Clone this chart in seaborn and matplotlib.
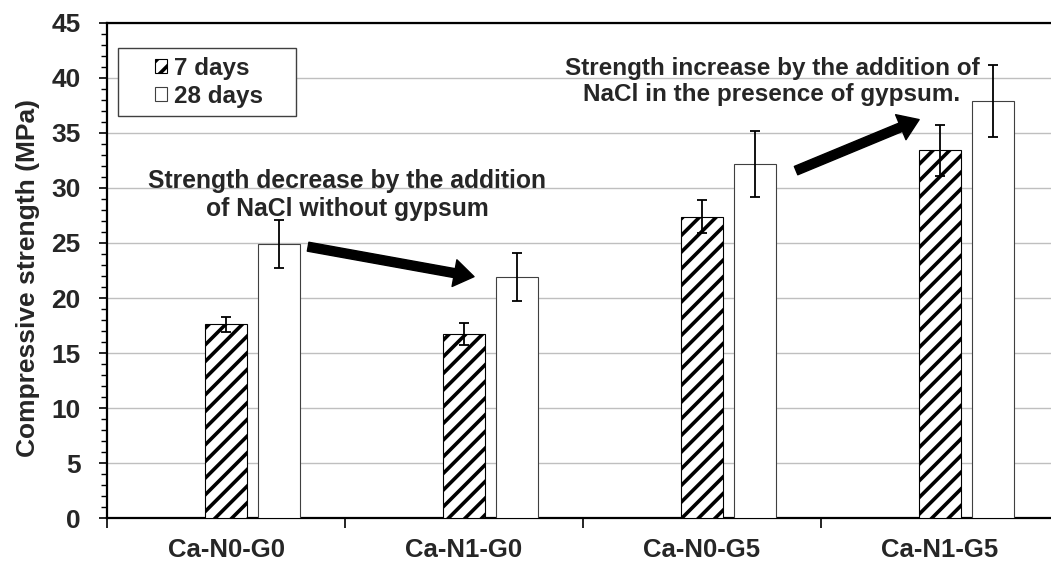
import numpy as np
import pandas as pd
import seaborn as sns
import matplotlib
matplotlib.use("Agg")
import matplotlib.pyplot as plt
from matplotlib.patches import Patch, Rectangle
from matplotlib.ticker import MultipleLocator

# ---- data ----
categories = ["Ca-N0-G0", "Ca-N1-G0", "Ca-N0-G5", "Ca-N1-G5"]
series = ["7 days", "28 days"]
strength_7d = [17.6, 16.7, 27.4, 33.4]
strength_28d = [24.9, 21.9, 32.2, 37.9]
err_7d = [0.7, 1.0, 1.5, 2.3]
err_28d = [2.2, 2.2, 3.0, 3.3]
y_ticks = [0, 5, 10, 15, 20, 25, 30, 35, 40, 45]
note_decrease = "Strength decrease by the addition\nof NaCl without gypsum"
note_increase = "Strength increase by the addition of\nNaCl in the presence of gypsum."

df = pd.DataFrame({
    "category": categories * 2,
    "age": [series[0]] * 4 + [series[1]] * 4,
    "strength": strength_7d + strength_28d,
})

sns.set_theme(style="white")
plt.rcParams["font.family"] = ["Liberation Sans", "DejaVu Sans"]
plt.rcParams["font.weight"] = "bold"
plt.rcParams["hatch.linewidth"] = 2.6

fig = plt.figure(figsize=(10.51, 5.64), dpi=100)
ax = fig.add_axes([0.1018, 0.081, 0.8982, 0.8788])

hue_order = ["_slot", series[0], series[1]]
sns.barplot(data=df, x="category", y="strength", hue="age", order=categories,
            hue_order=hue_order, palette=["white", "white", "white"],
            width=0.662, gap=0.2, errorbar=None, legend=False, ax=ax,
            edgecolor="#404040", linewidth=0.8, zorder=3)

# error bars and hatching, located from the bars seaborn drew
pts = {s: [] for s in series}
for p in list(ax.patches):
    h = p.get_height()
    if not np.isfinite(h) or h <= 0:
        continue
    cx = p.get_x() + p.get_width() / 2
    idx = int(round(cx))
    name = series[0] if abs(cx - idx) < 0.1 else series[1]
    pts[name].append((idx, cx))
    if name == series[0]:
        p.set_hatch("//")
        p.set_edgecolor("black")

errs = {series[0]: err_7d, series[1]: err_28d}
vals = {series[0]: strength_7d, series[1]: strength_28d}
for name in series:
    ordered = sorted(pts[name])
    xs = [c for _, c in ordered]
    ys = [vals[name][i] for i, _ in ordered]
    es = [errs[name][i] for i, _ in ordered]
    ax.errorbar(xs, ys, yerr=es, fmt="none", ecolor="black",
                elinewidth=1.3, capsize=3.5, capthick=1.3, zorder=4)

# axes styling
ax.set_ylim(0, 45)
ax.set_xlim(-0.5, 3.466)
ax.set_yticks(y_ticks)
ax.yaxis.set_minor_locator(MultipleLocator(1))
ax.set_xticks([-0.5, 0.5, 1.5, 2.5])
ax.set_xticklabels([])
ax.set_xticks(range(len(categories)), minor=True)
ax.set_xticklabels(categories, minor=True, fontsize=18.5, fontweight="bold")
ax.tick_params(axis="x", which="major", direction="out", length=7, width=1.2, color="black", bottom=True)
ax.tick_params(axis="x", which="minor", length=0, pad=14)
ax.tick_params(axis="y", which="major", direction="out", length=6, width=1.2, color="black",
               labelsize=19, left=True, pad=13)
ax.tick_params(axis="y", which="minor", direction="out", length=4, width=1.0, color="black", left=True)
for lab in ax.get_yticklabels():
    lab.set_fontweight("bold")

ax.set_xlabel("")
ax.set_ylabel("Compressive strength (MPa)", fontsize=19, fontweight="bold")
ax.yaxis.set_label_coords(-0.071, 0.484)

ax.grid(axis="y", color="#bfbfbf", linewidth=1.0)
ax.set_axisbelow(True)
for side in ["left", "bottom", "top"]:
    ax.spines[side].set_visible(True)
    ax.spines[side].set_color("black")
    ax.spines[side].set_linewidth(1.6)
ax.spines["right"].set_visible(False)

# legend
box = Rectangle((0.0117, 0.8117), 0.1886, 0.137, transform=ax.transAxes,
                facecolor="white", edgecolor="#404040", linewidth=1.0, zorder=5)
ax.add_patch(box)
handles = [Patch(facecolor="white", edgecolor="black", hatch="//", linewidth=0.8),
           Patch(facecolor="white", edgecolor="#404040", linewidth=0.8)]
leg = ax.legend(handles, series, loc="center", bbox_to_anchor=(0.108, 0.880),
                frameon=False, fontsize=17.5, handlelength=0.5, handleheight=0.5,
                handletextpad=0.3, labelspacing=0.2, borderaxespad=0)
leg.set_zorder(6)
for t in leg.get_texts():
    t.set_fontweight("bold")

# annotations
arrow_style = "simple,head_length=1.1,head_width=1.5,tail_width=0.5"
ax.annotate("", xy=(1.042, 21.94), xytext=(0.345, 24.66),
            arrowprops=dict(arrowstyle=arrow_style, color="black", mutation_scale=13,
                            shrinkA=0, shrinkB=0), zorder=6)
ax.annotate("", xy=(2.912, 36.2), xytext=(2.395, 31.57),
            arrowprops=dict(arrowstyle=arrow_style, color="black", mutation_scale=13,
                            shrinkA=0, shrinkB=0), zorder=6)
ax.text(0.51, 27.42, note_decrease, ha="center", va="baseline", fontsize=17.8,
        fontweight="bold", linespacing=1.25, zorder=6)
ax.text(2.294, 37.87, note_increase, ha="center", va="baseline", fontsize=17.5,
        fontweight="bold", linespacing=1.2, zorder=6)

fig.savefig("out.png", dpi=100)
